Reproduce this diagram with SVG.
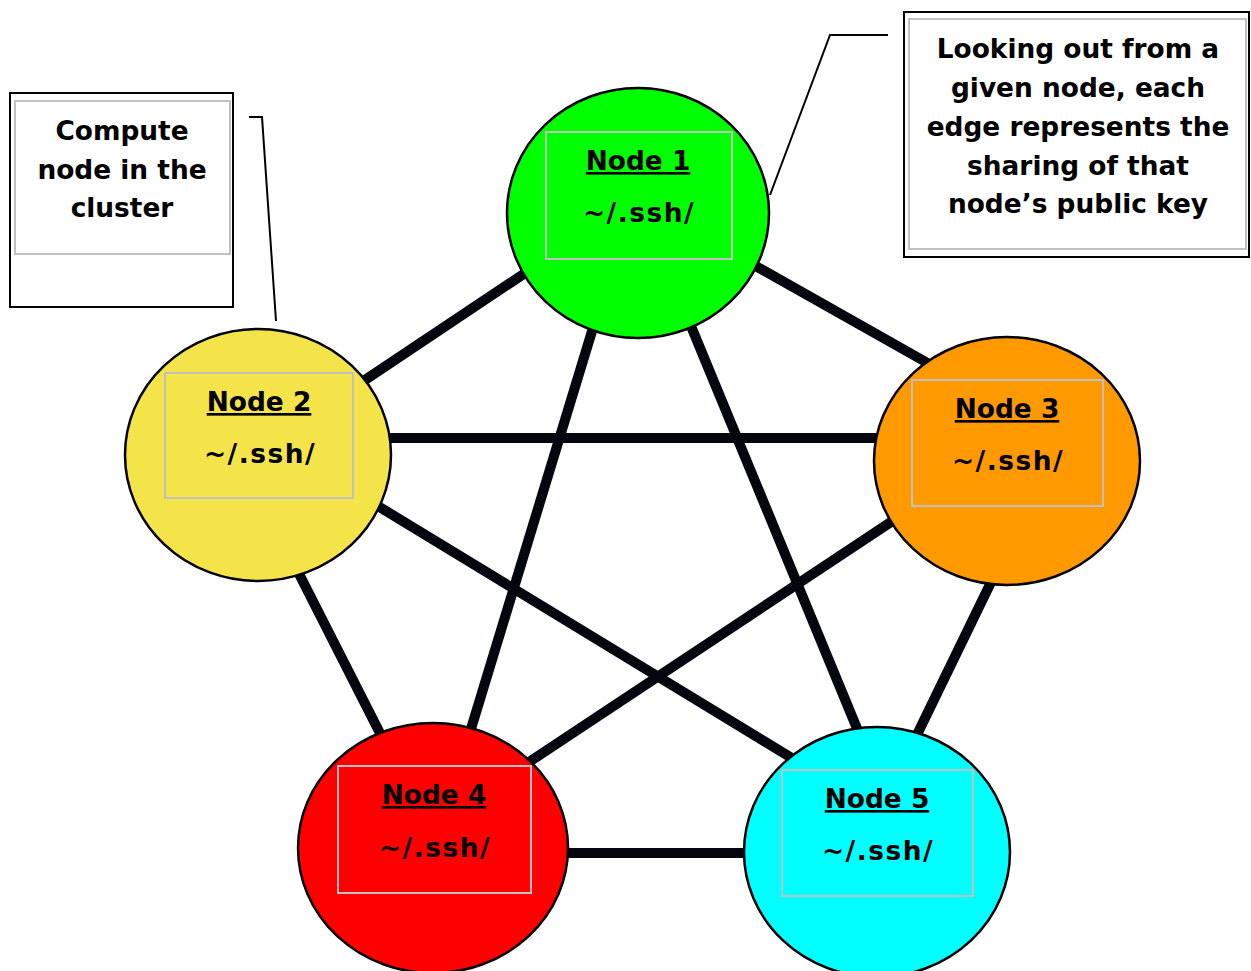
<svg xmlns="http://www.w3.org/2000/svg" width="1251" height="971" viewBox="0 0 1251 971">
<style>
text{font-family:"DejaVu Sans","Verdana","Liberation Sans",sans-serif;font-weight:bold;font-size:26.4px;fill:#000;text-anchor:middle}
.t{text-decoration:underline}
.p{letter-spacing:1.5px}
.edge{stroke:#03060f;stroke-width:10;stroke-linecap:butt}
.node{stroke:#000;stroke-width:2.5}
.inner{fill:none;stroke:#c0c0c0;stroke-width:2}
.box{fill:#fff;stroke:#000;stroke-width:2}
.lead{fill:none;stroke:#000;stroke-width:2}
</style>
<rect width="1251" height="971" fill="#fff"/>
<g id="connectors">
<line class="edge" x1="540" y1="263" x2="350" y2="390"/>
<line class="edge" x1="745" y1="260" x2="940" y2="370"/>
<line class="edge" x1="596" y1="318" x2="467" y2="742"/>
<line class="edge" x1="686" y1="314" x2="863" y2="743"/>
<line class="edge" x1="380" y1="438" x2="886" y2="438"/>
<line class="edge" x1="293" y1="562" x2="387" y2="747"/>
<line class="edge" x1="368" y1="500" x2="800" y2="763"/>
<line class="edge" x1="903" y1="514" x2="517" y2="770"/>
<line class="edge" x1="996" y1="572" x2="911" y2="747"/>
<line class="edge" x1="558" y1="853" x2="755" y2="853"/>
</g>
<g id="node1">
<ellipse class="node" cx="638" cy="213" rx="131" ry="125" fill="#00ff00"/>
<rect class="inner" x="546" y="132" width="186" height="127"/>
<text class="t" x="638" y="170">Node 1</text>
<text class="p" x="639" y="222">~/.ssh/</text>
</g>
<g id="node2">
<ellipse class="node" cx="258" cy="455" rx="133" ry="126" fill="#f4e44a"/>
<rect class="inner" x="165" y="373" width="188" height="125"/>
<text class="t" x="259" y="411">Node 2</text>
<text class="p" x="260" y="463">~/.ssh/</text>
</g>
<g id="node3">
<ellipse class="node" cx="1007" cy="461" rx="133" ry="124" fill="#ff9900"/>
<rect class="inner" x="912" y="380" width="191" height="126"/>
<text class="t" x="1007" y="418">Node 3</text>
<text class="p" x="1008" y="470">~/.ssh/</text>
</g>
<g id="node4">
<ellipse class="node" cx="433" cy="848" rx="135" ry="125" fill="#ff0000"/>
<rect class="inner" x="338" y="766" width="193" height="127"/>
<text class="t" x="434" y="804">Node 4</text>
<text class="p" x="435" y="857">~/.ssh/</text>
</g>
<g id="node5">
<ellipse class="node" cx="877" cy="852" rx="133" ry="125" fill="#00ffff"/>
<rect class="inner" x="782" y="770" width="191" height="126"/>
<text class="t" x="877" y="808">Node 5</text>
<text class="p" x="878" y="860">~/.ssh/</text>
</g>
<g id="callout-left">
<rect class="box" x="10" y="93" width="223" height="214"/>
<rect class="inner" x="15" y="101" width="215" height="153"/>
<polyline class="lead" points="249,117 262,117 276,321"/>
<text x="122" y="140">Compute</text>
<text x="122" y="179">node in the</text>
<text x="122" y="217">cluster</text>
</g>
<g id="callout-right">
<rect class="box" x="904" y="12" width="345" height="245"/>
<rect class="inner" x="909" y="19" width="337" height="230"/>
<polyline class="lead" points="888,35 830,35 770,195"/>
<text x="1078" y="58">Looking out from a</text>
<text x="1078" y="97">given node, each</text>
<text x="1078" y="136">edge represents the</text>
<text x="1078" y="175">sharing of that</text>
<text x="1078" y="213">node’s public key</text>
</g>
</svg>
